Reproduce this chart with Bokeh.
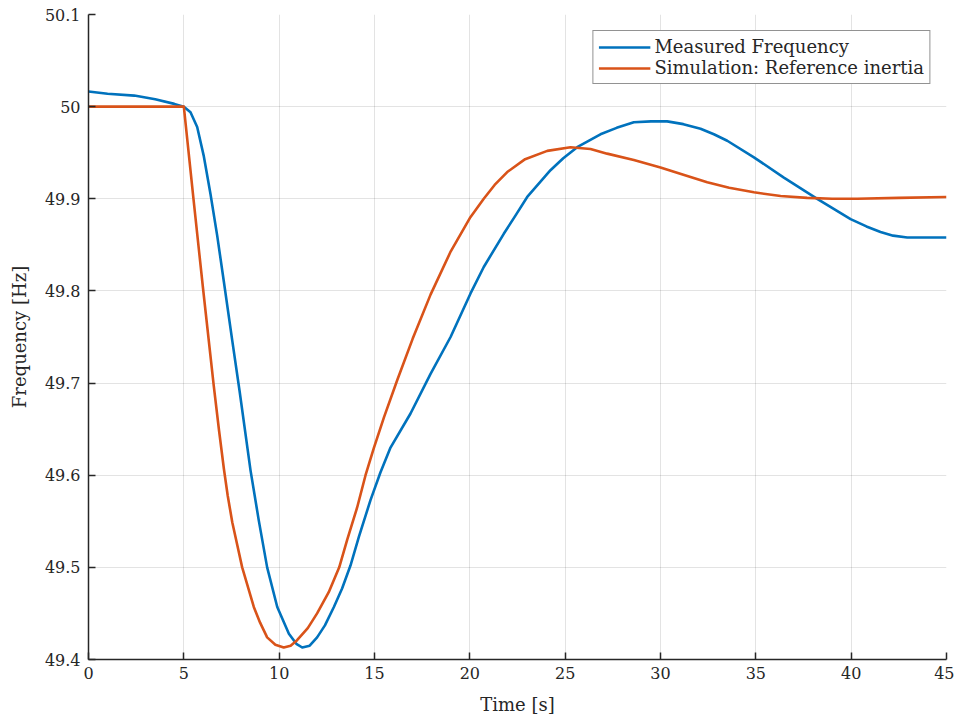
from bokeh.plotting import figure
from bokeh.models import FixedTicker, CustomJSTickFormatter, Legend, LegendItem
from bokeh.embed import file_html
from bokeh.resources import INLINE

# Measured frequency
t_meas = [0, 1, 2.4, 3.5, 4.5, 5.0, 5.35, 5.7, 6.05, 6.4, 6.75, 7.1, 7.54, 7.92,
          8.5, 8.93, 9.37, 9.9, 10.51, 10.9, 11.21, 11.6, 11.99, 12.4, 12.87, 13.3,
          13.74, 14.18, 14.79, 15.31, 15.84, 16.89, 17.94, 18.99, 20.03, 20.73, 21.78,
          22.4, 23.01, 24.23, 24.9, 25.63, 26.85, 27.7, 28.6, 29.5, 30.35, 31.2, 32.1,
          32.8, 33.5, 34.9, 36.47, 38.22, 39.97, 40.8, 41.54, 42.2, 42.94, 45]
f_meas = [50.0165, 50.014, 50.012, 50.008, 50.003, 50.0, 49.994, 49.978, 49.946, 49.905,
          49.860, 49.810, 49.746, 49.692, 49.605, 49.551, 49.500, 49.457, 49.428, 49.417,
          49.413, 49.415, 49.424, 49.437, 49.457, 49.477, 49.502, 49.533, 49.573, 49.603,
          49.630, 49.667, 49.710, 49.750, 49.797, 49.826, 49.862, 49.882, 49.902, 49.931,
          49.944, 49.956, 49.970, 49.977, 49.983, 49.984, 49.984, 49.981, 49.976, 49.970,
          49.963, 49.945, 49.923, 49.900, 49.878, 49.870, 49.864, 49.860, 49.858, 49.858]

# Simulation: reference inertia
t_sim = [0, 5.0, 5.5, 6.0, 6.57, 6.85, 7.1, 7.3, 7.54, 8.06, 8.67, 9.0, 9.37, 9.8, 10.24,
         10.6, 10.94, 11.5, 11.99, 12.6, 13.15, 13.57, 14.09, 14.53, 14.96, 15.5, 16.19,
         17.0, 17.94, 19.0, 20.03, 20.73, 21.3, 21.96, 22.9, 24.06, 25.28, 26.33, 27.2,
         28.6, 30.0, 31.2, 32.45, 33.6, 34.9, 36.3, 37.69, 39.0, 40.31, 42.5, 45]
f_sim = [50.0, 50.0, 49.901, 49.804, 49.697, 49.648, 49.607, 49.578, 49.549, 49.500,
         49.457, 49.440, 49.424, 49.416, 49.413, 49.415, 49.421, 49.434, 49.450, 49.473,
         49.500, 49.530, 49.565, 49.600, 49.629, 49.663, 49.703, 49.748, 49.796, 49.843,
         49.880, 49.900, 49.915, 49.929, 49.943, 49.952, 49.956, 49.954, 49.949, 49.942,
         49.934, 49.926, 49.918, 49.912, 49.907, 49.903, 49.901, 49.900, 49.900, 49.901,
         49.902]

x_ticks = [0, 5, 10, 15, 20, 25, 30, 35, 40, 45]
y_ticks = [49.4, 49.5, 49.6, 49.7, 49.8, 49.9, 50.0, 50.1]

FONT = "DejaVu Serif"
AX = "#262626"

p = figure(output_backend="svg", toolbar_location=None,
           frame_width=858, frame_height=645,
           min_border_left=88, min_border_top=14, min_border_right=8, min_border_bottom=50,
           x_range=(0, 45), y_range=(49.4, 50.1))

p.outline_line_color = None
p.background_fill_color = "white"
p.border_fill_color = "white"

blue = p.line(t_meas, f_meas, line_color="#0072BD", line_width=2.6, line_join="round")
orange = p.line(t_sim, f_sim, line_color="#D95319", line_width=2.6, line_join="round")

for ax in (p.xaxis, p.yaxis):
    ax.axis_line_color = AX
    ax.axis_line_width = 1.5
    ax.major_tick_line_color = AX
    ax.major_tick_line_width = 1.5
    ax.major_tick_in = 7
    ax.major_tick_out = 0
    ax.minor_tick_line_color = None
    ax.major_label_text_font = FONT
    ax.major_label_text_font_size = "16px"
    ax.major_label_text_color = AX
    ax.axis_label_text_font = FONT
    ax.axis_label_text_font_size = "18px"
    ax.axis_label_text_font_style = "normal"
    ax.axis_label_text_color = AX

p.xaxis.ticker = FixedTicker(ticks=x_ticks)
p.yaxis.ticker = FixedTicker(ticks=y_ticks)
p.yaxis.formatter = CustomJSTickFormatter(code="return tick.toFixed(1).replace(/\\.0$/, '');")
p.xaxis.axis_label = "Time [s]"
p.yaxis.axis_label = "Frequency [Hz]"
p.xaxis.major_label_standoff = 7
p.yaxis.major_label_standoff = 8
p.xaxis.axis_label_standoff = 12
p.yaxis.axis_label_standoff = 12

p.xgrid.grid_line_color = "#000000"
p.xgrid.grid_line_alpha = 0.11
p.ygrid.grid_line_color = "#000000"
p.ygrid.grid_line_alpha = 0.11

legend = Legend(items=[LegendItem(label="Measured Frequency", renderers=[blue]),
                       LegendItem(label="Simulation: Reference inertia", renderers=[orange])],
                location="top_right", margin=16)
legend.border_line_color = AX
legend.border_line_width = 1.2
legend.background_fill_color = "white"
legend.background_fill_alpha = 1.0
legend.label_text_font = FONT
legend.label_text_font_size = "18px"
legend.label_text_color = AX
legend.glyph_width = 52
legend.glyph_height = 18
legend.label_height = 18
legend.label_standoff = 4
legend.spacing = 0
legend.padding = 5
p.add_layout(legend)

open("out.html", "w").write(file_html(p, INLINE))
